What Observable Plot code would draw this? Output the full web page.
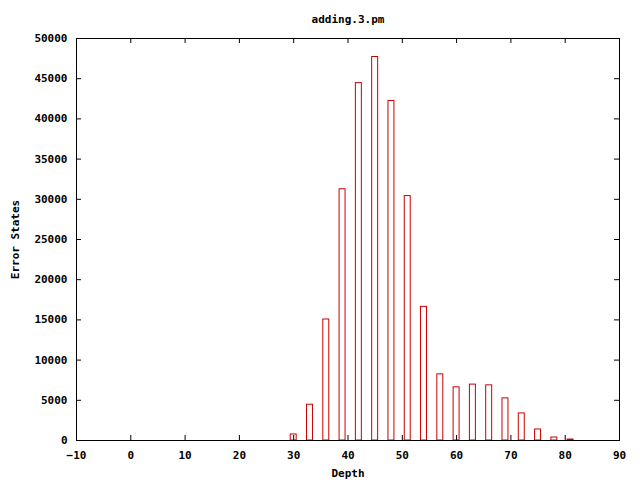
<!DOCTYPE html>
<html>
<head>
<meta charset="utf-8">
<script src="https://cdn.jsdelivr.net/npm/d3@7"></script>
<script src="https://cdn.jsdelivr.net/npm/@observablehq/plot@0.6"></script>
<style>
  html, body { margin: 0; padding: 0; background: #fff; }
  #chart { position: relative; width: 640px; height: 480px; }
  svg { font-family: "DejaVu Sans Mono", "Liberation Mono", monospace; font-weight: bold; }
</style>
</head>
<body>
<div id="chart"></div>
<script>
const title = "adding.3.pm";
const xLabel = "Depth";
const yLabel = "Error States";

const depths = [30, 33, 36, 39, 42, 45, 48, 51, 54, 57, 60, 63, 66, 69, 72, 75, 78, 81];
const errorStates = [750, 4450, 15050, 31250, 44450, 47700, 42230, 30400, 16620, 8230, 6610, 6950, 6860, 5240, 3370, 1370, 370, 120];

const xTicks = [-10, 0, 10, 20, 30, 40, 50, 60, 70, 80, 90];
const yTicks = [0, 5000, 10000, 15000, 20000, 25000, 30000, 35000, 40000, 45000, 50000];

const boxHalfWidth = 0.55;
const data = depths.map((d, i) => ({depth: d, value: errorStates[i]}));

const W = 640, H = 480;
const mL = 76, mR = 21, mT = 38, mB = 40;
const frameH = H - mT - mB;
const frameW = W - mL - mR;
const tl = 5;

const plot = Plot.plot({
  width: W,
  height: H,
  marginLeft: mL,
  marginRight: mR,
  marginTop: mT,
  marginBottom: mB,
  style: {fontFamily: "'DejaVu Sans Mono', monospace", fontSize: "11px", fontWeight: "bold", color: "#000", background: "#fff"},
  x: {domain: [-10, 90]},
  y: {domain: [0, 50000]},
  marks: [
    Plot.rect(data, {
      x1: d => d.depth - boxHalfWidth,
      x2: d => d.depth + boxHalfWidth,
      y1: 0,
      y2: "value",
      fill: "none",
      stroke: "#cc0000",
      strokeWidth: 1
    }),
    Plot.tickX(xTicks, {x: d => d, insetTop: frameH - tl, stroke: "#000"}),
    Plot.tickX(xTicks, {x: d => d, insetBottom: frameH - tl, stroke: "#000"}),
    Plot.tickY(yTicks, {y: d => d, insetRight: frameW - tl, stroke: "#000"}),
    Plot.tickY(yTicks, {y: d => d, insetLeft: frameW - tl, stroke: "#000"}),
    Plot.frame({stroke: "#000", strokeWidth: 1}),
    Plot.axisX(xTicks, {tickSize: 0, tickPadding: 11, tickFormat: d3.format("d"), label: null, fontWeight: "bold", fontSize: 11}),
    Plot.axisY(yTicks, {tickSize: 0, tickPadding: 9, tickFormat: d3.format("d"), label: null, fontWeight: "bold", fontSize: 11}),
    Plot.text([title], {frameAnchor: "top", dy: -23, text: d => d, fontWeight: "bold", fontSize: 11}),
    Plot.text([xLabel], {frameAnchor: "bottom", dy: 36, text: d => d, fontWeight: "bold", fontSize: 11}),
    Plot.text([yLabel], {frameAnchor: "left", textAnchor: "middle", dx: -61, rotate: -90, text: d => d, fontWeight: "bold", fontSize: 11})
  ]
});
document.getElementById("chart").appendChild(plot);
</script>
</body>
</html>
